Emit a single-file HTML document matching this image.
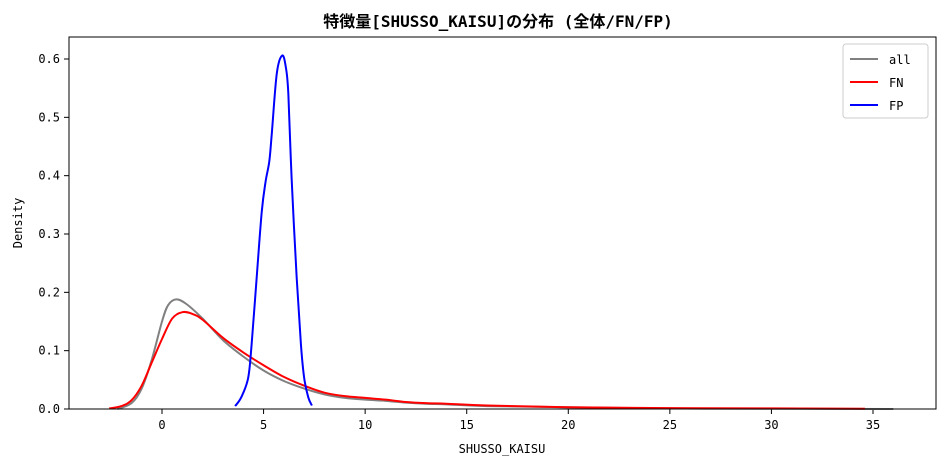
<!DOCTYPE html>
<html><head><meta charset="utf-8"><style>
body{margin:0;background:#fff}
svg text{font-family:"DejaVu Sans Mono","Liberation Mono","Noto Sans CJK JP",monospace;font-size:12px;fill:#000}
</style></head><body>
<svg id="chart" width="948" height="467">
<text x="498" y="27" text-anchor="middle" style="font-size:16px;font-weight:bold;font-family:'DejaVu Sans Mono','Noto Sans CJK JP',monospace">特徴量[SHUSSO_KAISU]の分布 (全体/FN/FP)</text>
<g id="plot"></g>
<rect x="69" y="37" width="867" height="372" fill="none" stroke="#000" stroke-width="1"/>
<text x="502" y="453" text-anchor="middle">SHUSSO_KAISU</text>
<text transform="translate(22,223) rotate(-90)" text-anchor="middle">Density</text>
<g>
<rect x="843" y="44" width="85" height="74" fill="#fff" stroke="#ccc" rx="3"/>
<line x1="850" y1="59" x2="878" y2="59" stroke="gray" stroke-width="2"/>
<text x="889" y="64">all</text>
<line x1="850" y1="82" x2="878" y2="82" stroke="red" stroke-width="2"/>
<text x="889" y="87">FN</text>
<line x1="850" y1="105" x2="878" y2="105" stroke="blue" stroke-width="2"/>
<text x="889" y="110">FP</text>
</g>
</svg>
<script>
const xTicks=[0,5,10,15,20,25,30,35];
const yTicks=[0,0.1,0.2,0.3,0.4,0.5,0.6];
const allX=[-2.2,-1.5,-1,-0.5,0,0.3,0.7,1.2,2,3,4,5,6,7,8,9,10,11,12,13,14,16,20,25,30,36];
const allY=[0,0.01,0.035,0.085,0.15,0.178,0.188,0.18,0.155,0.118,0.09,0.066,0.048,0.035,0.025,0.019,0.016,0.014,0.011,0.009,0.008,0.005,0.003,0.001,0.0005,0];
const fnX=[-2.6,-2,-1.5,-1,-0.5,0,0.5,1,1.5,2,3,4,5,6,7,8,9,10,11,12,13,14,16,20,25,30,34.6];
const fnY=[0.001,0.005,0.015,0.04,0.08,0.12,0.155,0.166,0.163,0.153,0.122,0.097,0.075,0.055,0.04,0.028,0.022,0.019,0.016,0.012,0.01,0.009,0.006,0.003,0.0015,0.001,0.0005];
const fpX=[3.6,3.9,4.24,4.41,4.66,4.91,5.1,5.28,5.4,5.65,5.92,6.1,6.22,6.38,6.63,6.84,7.0,7.2,7.38];
const fpY=[0.005,0.02,0.053,0.11,0.225,0.338,0.39,0.424,0.47,0.575,0.606,0.585,0.54,0.396,0.225,0.11,0.053,0.02,0.006];
const xs=v=>162+v*(873-162)/35;
const ys=v=>409-v*(409-59)/0.6;
const NS='http://www.w3.org/2000/svg';
const g=document.getElementById('plot');
function mk(t,a){const e=document.createElementNS(NS,t);for(const k in a)e.setAttribute(k,a[k]);g.appendChild(e);return e;}
xTicks.forEach(v=>{
 const l=mk('line',{x1:xs(v),x2:xs(v),y1:409,y2:414,stroke:'#000'});
 
 
 const t=mk('text',{x:xs(v),y:429,'text-anchor':'middle'});t.textContent=v;
 
 
});
yTicks.forEach(v=>{
 const l=mk('line',{x1:64,x2:69,y1:ys(v),y2:ys(v),stroke:'#000'});
 
 
 const t=mk('text',{x:60,y:ys(v)+4,'text-anchor':'end'});t.textContent=v.toFixed(1);
 
 
});
function path(X,Y){
 const p=X.map((x,i)=>[xs(x),ys(Y[i])]);
 let d='M'+p[0][0]+','+p[0][1];
 for(let i=0;i<p.length-1;i++){
  const p0=p[i-1]||p[i],p1=p[i],p2=p[i+1],p3=p[i+2]||p2;
  const c1=[p1[0]+(p2[0]-p0[0])/6,p1[1]+(p2[1]-p0[1])/6];
  const c2=[p2[0]-(p3[0]-p1[0])/6,p2[1]-(p3[1]-p1[1])/6];
  d+=`C${c1[0]},${c1[1]} ${c2[0]},${c2[1]} ${p2[0]},${p2[1]}`;
 }
 return d;
}
const a=mk('path',{d:path(allX,allY),fill:'none',stroke:'gray','stroke-width':2});


const f=mk('path',{d:path(fnX,fnY),fill:'none',stroke:'red','stroke-width':2});


const p=mk('path',{d:path(fpX,fpY),fill:'none',stroke:'blue','stroke-width':2});


</script>
</body></html>
